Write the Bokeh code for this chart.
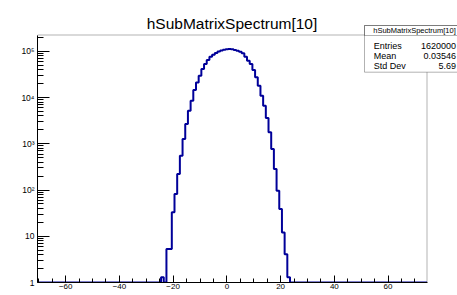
import numpy as np
from bokeh.plotting import figure
from bokeh.models import Range1d, FixedTicker, BoxAnnotation, Label
from bokeh.embed import file_html
from bokeh.resources import INLINE

# ---------------- data ----------------
title_text = "hSubMatrixSpectrum[10]"
bin_low = -70.5
bin_high = 74.5
first_bin = -24          # centre of the first listed bin (width 1)
counts = [1.3, 0, 5.3, 5.3, 33, 82, 222, 552, 1270, 2680, 5200, 8570,
          14600, 21300, 29800, 41600, 53300, 65100, 76800, 84000, 92000,
          99000, 104000, 108000, 111000, 112500, 111000, 107000, 103000,
          98000, 90500, 76800, 62900, 53300, 39600, 27400, 18100, 11000,
          6680, 3620, 1770, 771, 285, 97, 39, 12, 4.1, 1.3]
y_top = 2.26e5
stats_names = ["Entries", "Mean", "Std Dev"]
stats_values = ["1620000", "0.03546", "5.69"]
x_major = [-60, -40, -20, 0, 20, 40, 60]
x_minor = list(range(-70, 75, 5))
y_major = [1, 10, 100, 1000, 10000, 100000]
y_major_labels = ["1", "10", "10\u00b2", "10\u00b3", "10\u2074", "10\u2075"]

# ---------------- layout constants (pixels) ----------------
W, H = 457, 295
FL, FB = 37, 282              # bokeh frame left / bottom (= ROOT frame)
ROOT_R, ROOT_T = 426.5, 34.5  # ROOT frame right / top, inside bokeh frame
FONT = "Liberation Sans"
LINE = "#000099"

PX_PER_X = (ROOT_R - FL) / (bin_high - bin_low)
PX_PER_DEC = (FB - ROOT_T) / np.log10(y_top)
x_end = bin_low + (W - FL) / PX_PER_X
y_end = 10 ** (FB / PX_PER_DEC)


def xd(px):
    return bin_low + (px - FL) / PX_PER_X


def yd(py):
    return 10 ** ((FB - py) / PX_PER_DEC)


nb = int(round(bin_high - bin_low))
edges = bin_low + np.arange(nb + 1)
full = np.zeros(nb)
i0 = int(round(first_bin - (bin_low + 0.5)))
full[i0:i0 + len(counts)] = counts
ydraw = np.maximum(full, 1.0)
ystep = np.append(ydraw, ydraw[-1])

p = figure(width=W, height=H, x_range=Range1d(bin_low, x_end),
           y_range=Range1d(1, y_end), y_axis_type="log", title=None,
           output_backend="svg", toolbar_location=None,
           min_border_left=FL, min_border_right=0,
           min_border_top=0, min_border_bottom=H - FB)
p.background_fill_color = "white"
p.border_fill_color = "white"
p.outline_line_color = None
p.grid.visible = False

p.step(edges, ystep, mode="after", line_color=LINE, line_width=2)

# ROOT frame (top / right edges; left / bottom come from the axes)
p.add_layout(BoxAnnotation(left=bin_low, right=bin_high, bottom=1, top=y_top,
                           fill_alpha=0.0, line_color="black", line_width=1))

# axes
xa = p.xaxis[0]
xa.ticker = FixedTicker(ticks=x_major, minor_ticks=x_minor)
xa.bounds = (bin_low, bin_high)
xa.major_tick_in = 7
xa.major_tick_out = 0
xa.minor_tick_in = 4
xa.minor_tick_out = 0
xa.major_label_standoff = 1
xa.major_label_text_font = FONT
xa.major_label_text_font_size = "8px"
xa.major_label_text_color = "black"
xa.axis_line_color = "black"
xa.major_tick_line_color = "black"
xa.minor_tick_line_color = "black"

ya = p.yaxis[0]
ya_minor = [m * 10 ** k for k in range(0, 6) for m in range(2, 10) if m * 10 ** k < y_top]
ya.ticker = FixedTicker(ticks=y_major, minor_ticks=ya_minor)
ya.bounds = (1, y_top)
ya.major_label_overrides = {v: s for v, s in zip(y_major, y_major_labels)}
ya.major_tick_in = 12
ya.major_tick_out = 0
ya.minor_tick_in = 6
ya.minor_tick_out = 0
ya.major_label_standoff = 3
ya.major_label_text_font = FONT
ya.major_label_text_font_size = "8.5px"
ya.major_label_text_color = "black"
ya.axis_line_color = "black"
ya.major_tick_line_color = "black"
ya.minor_tick_line_color = "black"

# main title
p.add_layout(Label(x=xd(231.5), y=yd(23), text=title_text, text_align="center",
                   text_baseline="alphabetic", text_font=FONT,
                   text_font_size="15.5px", text_color="black"))

# stats box
bl, br, bt, bs, bb = 364, 464, 25, 35, 71.7
p.add_layout(BoxAnnotation(left=xd(bl), right=xd(br), top=yd(bt), bottom=yd(bb),
                           fill_color="white", fill_alpha=1.0,
                           line_color="black", line_width=1, level="overlay"))
p.add_layout(BoxAnnotation(left=xd(bl), right=xd(br), top=yd(bt), bottom=yd(bs),
                           fill_alpha=0.0, line_color="black", line_width=1,
                           level="overlay"))
p.add_layout(Label(x=xd(414), y=yd(30), text=title_text,
                   text_align="center", text_baseline="middle",
                   text_font=FONT, text_font_size="7.5px", text_color="black",
                   level="overlay"))
for k, (nm, vv) in enumerate(zip(stats_names, stats_values)):
    yy = yd(45 + 10 * k)
    p.add_layout(Label(x=xd(373.3), y=yy, text=nm, text_align="left",
                       text_baseline="middle", text_font=FONT,
                       text_font_size="9px", text_color="black",
                       level="overlay"))
    p.add_layout(Label(x=xd(455.5), y=yy, text=vv, text_align="right",
                       text_baseline="middle", text_font=FONT,
                       text_font_size="9px", text_color="black",
                       level="overlay"))

open("out.html", "w").write(file_html(p, INLINE))
